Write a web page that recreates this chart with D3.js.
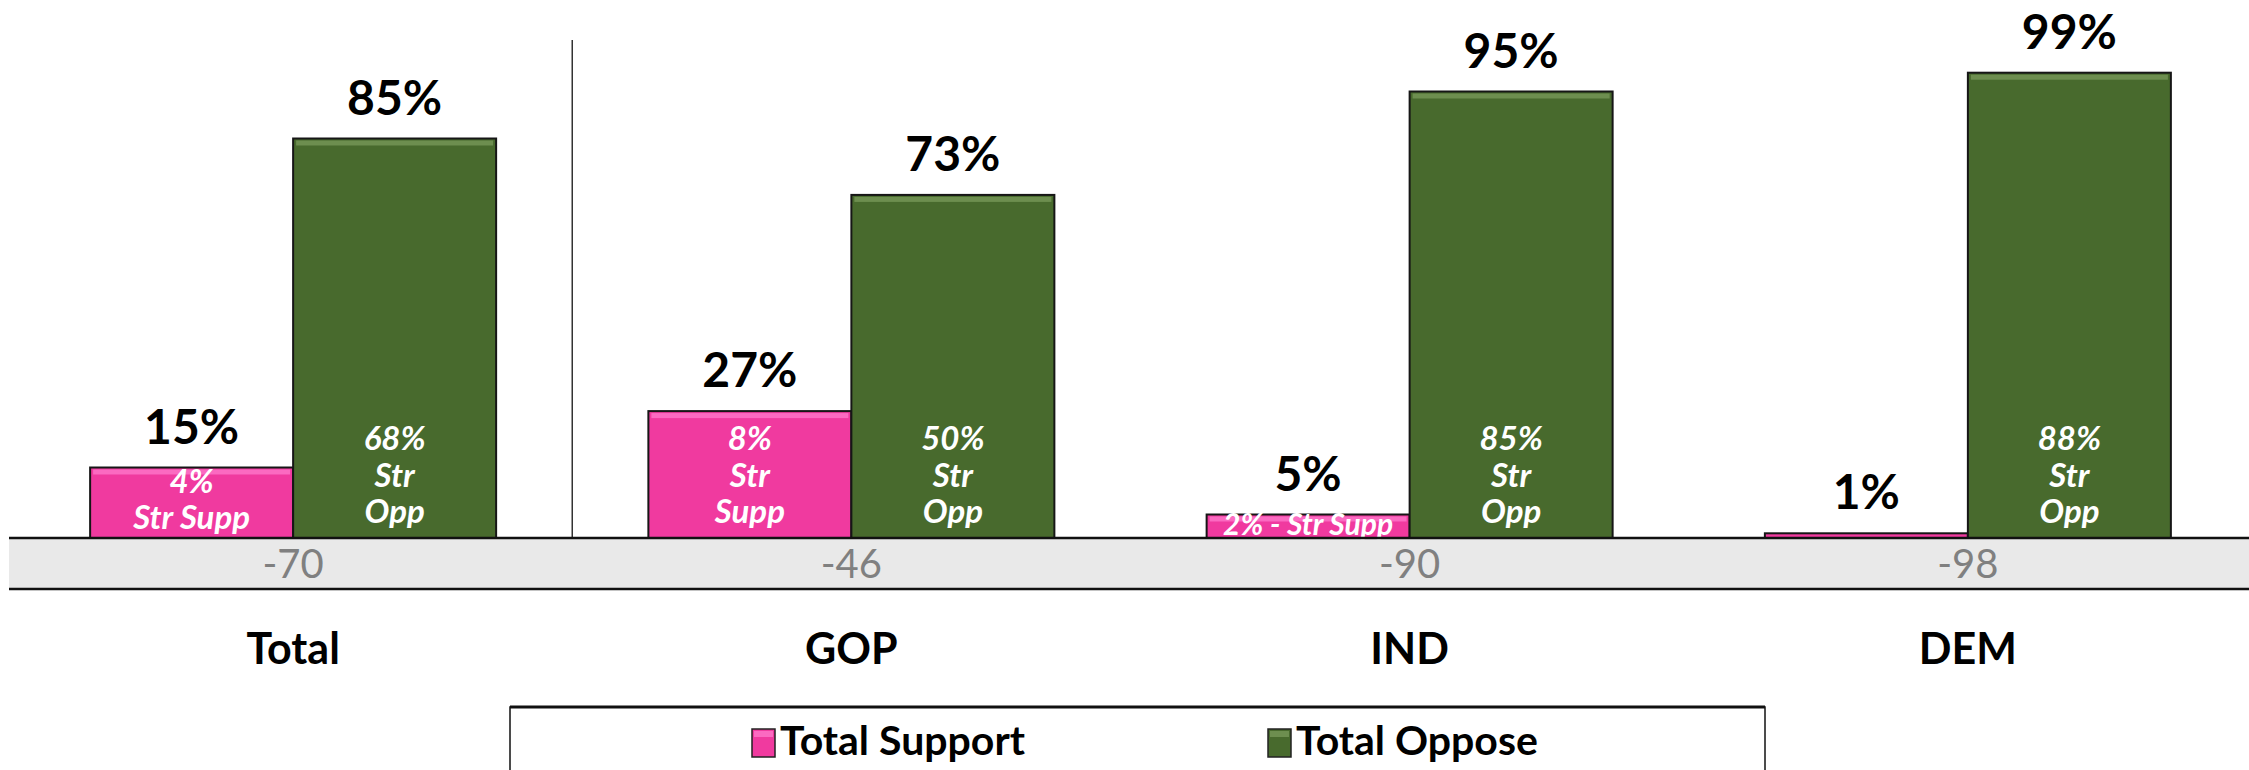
<!DOCTYPE html>
<html>
<head>
<meta charset="utf-8">
<script src="https://cdn.jsdelivr.net/npm/d3@7"></script>
<style>
    body { margin: 0; background: #fff; }
    svg { display: block; font-family: Lato, "Open Sans", sans-serif; }
</style>
</head>
<body>
<div id="chart"></div>
<script>

// data
const categories = ["Total", "GOP", "IND", "DEM"];
const seriesNames = ["Total Support", "Total Oppose"];
const totalSupport = [15, 27, 5, 1];
const totalOppose = [85, 73, 95, 99];
const strongSupportLabels = [["4%", "Str Supp"], ["8%", "Str", "Supp"], ["2% - Str Supp"], []];
const strongOpposeLabels = [["68%", "Str", "Opp"], ["50%", "Str", "Opp"], ["85%", "Str", "Opp"], ["88%", "Str", "Opp"]];
const netValues = [-70, -46, -90, -98];

const colors = {"Total Support": "#f03a9f", "Total Oppose": "#486a2d"};
const highlights = {"Total Support": "#ff7fd0", "Total Oppose": "#7e9e5e"};

const width = 2249, height = 770;

// table built from the arrays above
let rows = categories.map((c, i) => ({
    cat: c,
    bars: [
        {series: "Total Support", value: totalSupport[i], inner: strongSupportLabels[i]},
        {series: "Total Oppose", value: totalOppose[i], inner: strongOpposeLabels[i]}
    ],
    net: netValues[i]
}));

let svg = d3.select("#chart").append("svg")
    .attr("width", width)
    .attr("height", height);

// scales
let x0 = d3.scaleBand()
    .domain(categories)
    .range([14, 2247]);

let groupW = 406;
let x1 = d3.scaleBand()
    .domain(seriesNames)
    .range([0, groupW]);

let y = d3.scaleLinear()
    .domain([0, 100])
    .range([538, 68]);

let groupLeft = c => x0(c) + (x0.bandwidth() - groupW) / 2;
let groupCenter = c => x0(c) + x0.bandwidth() / 2;

// grey band with net values under the axis
svg.append("rect")
    .attr("x", 9).attr("y", y(0))
    .attr("width", width - 9).attr("height", 51)
    .attr("fill", "#e9e9e9");

// divider between Total and parties
svg.append("line")
    .attr("x1", x0("GOP")).attr("x2", x0("GOP"))
    .attr("y1", 40).attr("y2", y(0))
    .attr("stroke", "#333").attr("stroke-width", 1.5);

// bars
let groups = svg.selectAll(".group")
    .data(rows)
    .enter()
    .append("g")
    .attr("class", "group")
    .attr("transform", d => `translate(${groupLeft(d.cat)},0)`);

groups.selectAll(".bar")
    .data(d => d.bars)
    .enter()
    .append("rect")
    .attr("class", "bar")
    .attr("x", d => x1(d.series))
    .attr("y", d => y(d.value))
    .attr("width", x1.bandwidth())
    .attr("height", d => y(0) - y(d.value))
    .attr("fill", d => colors[d.series])
    .attr("stroke", "#161616")
    .attr("stroke-width", 2);

// little bevel on top of each bar
groups.selectAll(".shine")
    .data(d => d.bars.filter(b => y(0) - y(b.value) > 8))
    .enter()
    .append("rect")
    .attr("x", d => x1(d.series) + 3)
    .attr("y", d => y(d.value) + 2)
    .attr("width", x1.bandwidth() - 6)
    .attr("height", 5)
    .attr("fill", d => highlights[d.series])
    .attr("opacity", 0.7);

// value labels above the bars
groups.selectAll(".top-label")
    .data(d => d.bars)
    .enter()
    .append("text")
    .attr("x", d => x1(d.series) + x1.bandwidth() / 2)
    .attr("y", d => y(d.value) - 24)
    .attr("text-anchor", "middle")
    .attr("font-size", 48)
    .attr("font-weight", "bold")
    .attr("fill", "#000")
    .text(d => d.value + "%");

// strong support / oppose labels inside the bars
groups.selectAll(".inner-label")
    .data(d => d.bars)
    .enter()
    .append("text")
    .attr("text-anchor", "middle")
    .attr("font-size", d => d.inner.length === 1 ? 30 : 33)
    .attr("font-weight", "bold")
    .attr("font-style", "italic")
    .attr("fill", "#fff")
    .each(function(d) {
        let n = d.inner.length;
        let last = y(0) - 3 - 6 * (n - 1);
        d3.select(this).selectAll("tspan")
            .data(d.inner)
            .enter()
            .append("tspan")
            .attr("x", x1(d.series) + x1.bandwidth() / 2)
            .attr("y", (t, i) => last - (n - 1 - i) * 36.5)
            .text(t => t);
    });

// axis lines of the band
svg.append("line")
    .attr("x1", 9).attr("x2", width)
    .attr("y1", y(0)).attr("y2", y(0))
    .attr("stroke", "#111").attr("stroke-width", 2.5);
svg.append("line")
    .attr("x1", 9).attr("x2", width)
    .attr("y1", y(0) + 51).attr("y2", y(0) + 51)
    .attr("stroke", "#111").attr("stroke-width", 2.5);

// net values
svg.selectAll(".net")
    .data(rows)
    .enter()
    .append("text")
    .attr("x", d => groupCenter(d.cat))
    .attr("y", 578)
    .attr("text-anchor", "middle")
    .attr("font-size", 40)
    .attr("fill", "#808080")
    .text(d => d.net);

// category labels
svg.append("g")
    .attr("transform", "translate(0,664)")
    .call(d3.axisBottom(x0).tickSize(0).tickPadding(0))
    .call(g => g.select(".domain").remove())
    .selectAll("text")
    .attr("dy", 0)
    .attr("font-family", "Lato, sans-serif")
    .attr("font-size", 43)
    .attr("font-weight", "bold")
    .attr("fill", "#000");

// legend
let legend = svg.append("g");
legend.append("rect")
    .attr("x", 510).attr("y", 707)
    .attr("width", 1255).attr("height", 100)
    .attr("fill", "#fff")
    .attr("stroke", "#111").attr("stroke-width", 1.5);
legend.append("line")
    .attr("x1", 510).attr("x2", 1765)
    .attr("y1", 707).attr("y2", 707)
    .attr("stroke", "#111").attr("stroke-width", 3);

let legendX = [752, 1268];
let items = legend.selectAll(".item")
    .data(seriesNames)
    .enter()
    .append("g")
    .attr("transform", (d, i) => `translate(${legendX[i]},0)`);

items.append("rect")
    .attr("x", 0).attr("y", 729)
    .attr("width", 23).attr("height", 28)
    .attr("fill", d => colors[d])
    .attr("stroke", "#222").attr("stroke-width", 1.5);
items.append("rect")
    .attr("x", 2).attr("y", 731)
    .attr("width", 19).attr("height", 6)
    .attr("fill", d => highlights[d])
    .attr("opacity", 0.7);
items.append("text")
    .attr("x", 28).attr("y", 755)
    .attr("font-size", 41)
    .attr("font-weight", "bold")
    .attr("fill", "#000")
    .text(d => d);

</script>
</body>
</html>
